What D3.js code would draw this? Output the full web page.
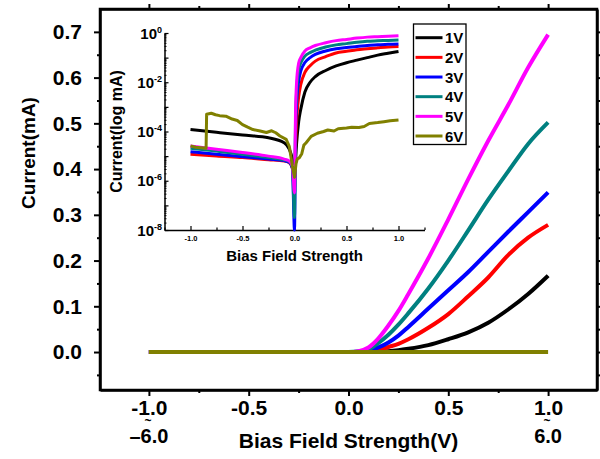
<!DOCTYPE html>
<html>
<head>
  <meta charset="UTF-8">
  <title>Current vs Bias Field Strength</title>
  <script src="https://d3js.org/d3.v7.min.js"></script>
  <style>
    body {
      margin: 0;
      background: #fff;
    }
    svg {
      font-family: "Liberation Sans", Arial, sans-serif;
      font-weight: bold;
    }
    .axis line, .axis path {
      stroke: #000;
    }
    .axis text {
      fill: #000;
    }
  </style>
</head>
<body>
  <svg id="chart" width="600" height="459"></svg>
  <script>
    const series = ["1V", "2V", "3V", "4V", "5V", "6V"];
    const colours = ["#000000", "#ff0000", "#0000ff", "#008080", "#ff00ff", "#808000"];

    // main panel, current in mA
    const biasX = [-1.0, 0.0, 0.05, 0.1, 0.15, 0.2, 0.25, 0.3, 0.4, 0.5, 0.6, 0.7, 0.8, 0.9, 1.0];
    const cur1V = [0, 0, 0, 0, 0.001, 0.002, 0.004, 0.007, 0.015, 0.028, 0.043, 0.064, 0.093, 0.127, 0.167];
    const cur2V = [0, 0, 0, 0.001, 0.004, 0.011, 0.018, 0.028, 0.053, 0.083, 0.122, 0.163, 0.212, 0.25, 0.278];
    const cur3V = [0, 0, 0.0005, 0.003, 0.01, 0.021, 0.036, 0.055, 0.095, 0.135, 0.175, 0.219, 0.263, 0.306, 0.349];
    const cur4V = [0, 0, 0.001, 0.006, 0.02, 0.038, 0.06, 0.085, 0.139, 0.2, 0.266, 0.333, 0.395, 0.455, 0.502];
    const cur5V = [0, 0, 0.002, 0.01, 0.03, 0.058, 0.09, 0.127, 0.205, 0.29, 0.378, 0.462, 0.54, 0.622, 0.694];
    const cur6V = [0, 0, 0, 0, 0, 0, 0, 0, 0, 0, 0, 0, 0, 0, 0];

    // inset, |current| on log scale
    const insetX = [-1.0, -0.75, -0.5, -0.25, -0.1, -0.05, -0.02, 0, 0.01, 0.02, 0.04, 0.06, 0.1, 0.15, 0.2, 0.3, 0.4, 0.5, 0.6, 0.7, 0.8, 0.9, 1.0];
    const log1V = [1.2e-4, 9.3e-5, 7.2e-5, 5.6e-5, 3.5e-5, 1.9e-5, 7.1e-6, 1.3e-6, 6.3e-6, 3.2e-5, 2.5e-4, 7.9e-4, 4.0e-3, 1.0e-2, 1.7e-2, 3.0e-2, 4.6e-2, 6.2e-2, 7.9e-2, 0.10, 0.126, 0.15, 0.178];
    const log2V = [1.2e-5, 1.0e-5, 8.7e-6, 7.1e-6, 6.3e-6, 5.4e-6, 3.2e-6, 3.2e-7, 2.5e-5, 2.5e-4, 2.5e-3, 7.9e-3, 2.5e-2, 4.7e-2, 7.2e-2, 0.11, 0.155, 0.18, 0.21, 0.23, 0.25, 0.27, 0.28];
    const log3V = [1.5e-5, 1.2e-5, 9.5e-6, 7.6e-6, 6.6e-6, 5.6e-6, 3.2e-6, 1e-8, 1e-4, 1.3e-3, 1.1e-2, 2.8e-2, 6.3e-2, 0.10, 0.135, 0.186, 0.23, 0.26, 0.28, 0.31, 0.33, 0.35, 0.36];
    const log4V = [2.1e-5, 1.6e-5, 1.2e-5, 8.7e-6, 7.1e-6, 6.0e-6, 3.5e-6, 3.2e-8, 2.5e-4, 4.0e-3, 3.2e-2, 6.0e-2, 0.115, 0.16, 0.20, 0.27, 0.33, 0.37, 0.42, 0.46, 0.48, 0.50, 0.52];
    const log5V = [2.6e-5, 1.9e-5, 1.4e-5, 1.0e-5, 7.6e-6, 6.3e-6, 4.0e-6, 3.2e-7, 6.3e-4, 1.0e-2, 6.0e-2, 0.10, 0.186, 0.25, 0.31, 0.40, 0.49, 0.55, 0.62, 0.68, 0.71, 0.74, 0.78];
    // 6V is noisy, so it gets its own x grid
    const log6X = [-1.0, -0.95, -0.9, -0.85, -0.845, -0.8, -0.76, -0.72, -0.66, -0.6, -0.55, -0.5, -0.45, -0.4, -0.33, -0.27, -0.22, -0.18, -0.14, -0.08, -0.05, -0.02, 0, 0.015, 0.026, 0.048, 0.07, 0.09, 0.112, 0.16, 0.22, 0.28, 0.32, 0.38, 0.42, 0.5, 0.55, 0.62, 0.67, 0.72, 0.8, 0.86, 0.92, 1.0];
    const log6V = [2.6e-5, 2.3e-5, 2.2e-5, 2.1e-5, 5.0e-4, 5.5e-4, 4.8e-4, 4.4e-4, 4.2e-4, 3.2e-4, 2.8e-4, 1.9e-4, 1.5e-4, 1.2e-4, 1.05e-4, 9.1e-5, 1.07e-4, 8.9e-5, 6.6e-5, 4.8e-5, 2.5e-5, 4e-6, 1.4e-6, 5e-6, 7.6e-6, 8.7e-6, 1.26e-5, 2.8e-5, 3.5e-5, 6.3e-5, 8.5e-5, 1.0e-4, 1.15e-4, 1.05e-4, 1.3e-4, 1.4e-4, 1.5e-4, 1.45e-4, 1.6e-4, 2.1e-4, 2.3e-4, 2.5e-4, 2.75e-4, 2.95e-4];

    // ticks
    const xTicks = [-1.0, -0.5, 0.0, 0.5, 1.0];
    const xMinor = [-0.75, -0.25, 0.25, 0.75];
    const yTicks = [0.0, 0.1, 0.2, 0.3, 0.4, 0.5, 0.6, 0.7];
    const yMinor = [-0.05, 0.05, 0.15, 0.25, 0.35, 0.45, 0.55, 0.65];
    const altTicks = [-1.0, 1.0];
    const altLabels = ["\u20136.0", "6.0"];
    const insetXMinor = [-1.25, -0.75, -0.25, 0.25, 0.75, 1.25];
    const insetDecades = [1e-8, 1e-7, 1e-6, 1e-5, 1e-4, 1e-3, 1e-2, 1e-1, 1e0];
    const insetLabelled = [0, -2, -4, -6, -8];

    const currents = [cur1V, cur2V, cur3V, cur4V, cur5V, cur6V];
    const logCurrents = [log1V, log2V, log3V, log4V, log5V];

    const svg = d3.select("#chart");

    const x = d3.scaleLinear().domain([-1.245, 1.245]).range([100, 597]);
    const y = d3.scaleLinear().domain([-0.083, 0.75]).range([390, 9]);

    const styleAxis = (g, size, keepDomain) => {
      g.attr("font-family", null).attr("font-size", size);
      if (keepDomain) g.select(".domain").attr("stroke-width", 2.5);
      else g.select(".domain").remove();
    };

    // main curves
    const line = d3.line()
      .x((d, i) => x(biasX[i]))
      .y(d => y(d))
      .curve(d3.curveMonotoneX);

    svg.selectAll(".curve")
      .data(currents)
      .enter()
      .append("path")
      .attr("class", "curve")
      .attr("fill", "none")
      .attr("stroke", (d, i) => colours[i])
      .attr("stroke-width", 4)
      .attr("stroke-linejoin", "round")
      .attr("d", line);

    // bottom axis
    svg.append("g").attr("class", "axis")
      .attr("transform", "translate(0,390)")
      .call(d3.axisBottom(x).tickValues(xTicks).tickSize(6).tickSizeOuter(0).tickPadding(4)
        .tickFormat(d => d.toFixed(1)))
      .call(g => styleAxis(g, 21, true))
      .selectAll("line").attr("stroke-width", 2);
    svg.append("g").attr("class", "axis")
      .attr("transform", "translate(0,390)")
      .call(d3.axisBottom(x).tickValues(xMinor).tickSize(3).tickSizeOuter(0).tickFormat(""))
      .call(g => styleAxis(g, 20))
      .selectAll("line").attr("stroke-width", 2);
    // top axis
    svg.append("g").attr("class", "axis")
      .attr("transform", "translate(0,9)")
      .call(d3.axisTop(x).tickValues(xTicks).tickSize(5).tickSizeOuter(0).tickFormat(""))
      .call(g => styleAxis(g, 20, true))
      .selectAll("line").attr("stroke-width", 2);
    svg.append("g").attr("class", "axis")
      .attr("transform", "translate(0,9)")
      .call(d3.axisTop(x).tickValues(xMinor).tickSize(3).tickSizeOuter(0).tickFormat(""))
      .call(g => styleAxis(g, 20))
      .selectAll("line").attr("stroke-width", 2);

    // left axis
    svg.append("g").attr("class", "axis")
      .attr("transform", "translate(100,0)")
      .call(d3.axisLeft(y).tickValues(yTicks).tickSize(6).tickSizeOuter(0).tickPadding(12)
        .tickFormat(d => d.toFixed(1)))
      .call(g => styleAxis(g, 21, true))
      .selectAll("line").attr("stroke-width", 2);
    svg.append("g").attr("class", "axis")
      .attr("transform", "translate(100,0)")
      .call(d3.axisLeft(y).tickValues(yMinor).tickSize(3).tickSizeOuter(0).tickFormat(""))
      .call(g => styleAxis(g, 20))
      .selectAll("line").attr("stroke-width", 2);
    // right axis
    svg.append("g").attr("class", "axis")
      .attr("transform", "translate(597,0)")
      .call(d3.axisRight(y).tickValues(yTicks).tickSize(5).tickSizeOuter(0).tickFormat(""))
      .call(g => styleAxis(g, 20, true))
      .selectAll("line").attr("stroke-width", 2);
    svg.append("g").attr("class", "axis")
      .attr("transform", "translate(597,0)")
      .call(d3.axisRight(y).tickValues(yMinor).tickSize(3).tickSizeOuter(0).tickFormat(""))
      .call(g => styleAxis(g, 20))
      .selectAll("line").attr("stroke-width", 2);

    // frame
    svg.append("rect")
      .attr("x", 100).attr("y", 9)
      .attr("width", 497).attr("height", 381)
      .style("fill", "none")
      .style("stroke", "#000")
      .style("stroke-width", "2.5px");

    // second row of x labels (the ~ and the 6.0 values)
    svg.selectAll(".tilde")
      .data(altTicks)
      .enter()
      .append("text")
      .attr("class", "tilde")
      .attr("x", d => x(d) - 1)
      .attr("y", 425)
      .attr("text-anchor", "middle")
      .attr("font-size", 12)
      .text("~");
    svg.selectAll(".alt")
      .data(altTicks)
      .enter()
      .append("text")
      .attr("class", "alt")
      .attr("x", d => x(d))
      .attr("y", 443)
      .attr("text-anchor", "middle")
      .attr("font-size", 20)
      .text((d, i) => altLabels[i]);

    svg.append("text")
      .attr("x", (x.range()[0] + x.range()[1]) / 2)
      .attr("y", 448)
      .attr("text-anchor", "middle")
      .attr("font-size", 21)
      .text("Bias Field Strength(V)");

    svg.append("text")
      .attr("transform", "translate(35,153) rotate(-90)")
      .attr("text-anchor", "middle")
      .attr("font-size", 19)
      .text("Current(mA)");

    // ---- inset ----
    const ix = d3.scaleLinear().domain([-1.25, 1.25]).range([164.5, 424.5]);
    const iy = d3.scaleLog().domain([1e-8, 1]).range([230, 33]).clamp(true);

    const insetMinor = [];
    insetDecades.slice(0, -1).forEach(p => {
      for (let k = 2; k < 10; k++) insetMinor.push(p * k);
    });

    svg.append("g").attr("class", "axis")
      .attr("transform", "translate(0,230)")
      .call(d3.axisBottom(ix).tickValues(xTicks).tickSizeInner(-4).tickSizeOuter(0).tickPadding(6)
        .tickFormat(d => d.toFixed(1)))
      .call(g => g.attr("font-family", null).attr("font-size", 7.5))
      .call(g => g.select(".domain").attr("stroke-width", 1.5))
      .selectAll("line").attr("stroke-width", 1.2);
    svg.append("g").attr("class", "axis")
      .attr("transform", "translate(0,230)")
      .call(d3.axisBottom(ix).tickValues(insetXMinor).tickSizeInner(-2.5).tickSizeOuter(0).tickFormat(""))
      .call(g => styleAxis(g, 8))
      .selectAll("line").attr("stroke-width", 1.2);

    svg.append("g").attr("class", "axis")
      .attr("transform", "translate(164.5,0)")
      .call(d3.axisLeft(iy).tickValues(insetDecades).tickSizeInner(-4).tickSizeOuter(0).tickFormat(""))
      .call(g => g.attr("font-family", null))
      .call(g => g.select(".domain").attr("stroke-width", 1.5))
      .selectAll("line").attr("stroke-width", 1.2);
    svg.append("g").attr("class", "axis")
      .attr("transform", "translate(164.5,0)")
      .call(d3.axisLeft(iy).tickValues(insetMinor).tickSizeInner(-2).tickSizeOuter(0).tickFormat(""))
      .call(g => styleAxis(g, 8))
      .selectAll("line").attr("stroke-width", 1);

    const powLabels = svg.selectAll(".pow")
      .data(insetLabelled)
      .enter()
      .append("text")
      .attr("class", "pow")
      .attr("x", 162)
      .attr("y", d => iy(Math.pow(10, d)) + 5.5)
      .attr("text-anchor", "end")
      .attr("font-size", 15);
    powLabels.append("tspan").text("10");
    powLabels.append("tspan")
      .attr("dy", -6)
      .attr("font-size", 9)
      .text(d => d);

    svg.append("text")
      .attr("x", ix(0))
      .attr("y", 261)
      .attr("text-anchor", "middle")
      .attr("font-size", 15)
      .text("Bias Field Strength");

    svg.append("text")
      .attr("transform", "translate(122,131.5) rotate(-90)")
      .attr("text-anchor", "middle")
      .attr("font-size", 16)
      .text("Current(log mA)");

    const logLine = d3.line()
      .x((d, i) => ix(insetX[i]))
      .y(d => iy(d))
      .curve(d3.curveMonotoneX);

    svg.selectAll(".logcurve")
      .data(logCurrents)
      .enter()
      .append("path")
      .attr("class", "logcurve")
      .attr("fill", "none")
      .attr("stroke", (d, i) => colours[i])
      .attr("stroke-width", 3)
      .attr("stroke-linejoin", "round")
      .attr("d", logLine);

    svg.append("path")
      .datum(log6V)
      .attr("fill", "none")
      .attr("stroke", colours[5])
      .attr("stroke-width", 3)
      .attr("stroke-linejoin", "round")
      .attr("d", d3.line().x((d, i) => ix(log6X[i])).y(d => iy(d)));

    // legend
    const legendY = d3.scaleLinear().domain([0, 5]).range([37.7, 136]);
    svg.append("rect")
      .attr("x", 413.5).attr("y", 24)
      .attr("width", 52.5).attr("height", 120.5)
      .attr("fill", "#fff")
      .attr("stroke", "#000")
      .attr("stroke-width", 1.3);
    const items = svg.selectAll(".legend")
      .data(series)
      .enter()
      .append("g")
      .attr("class", "legend")
      .attr("transform", (d, i) => `translate(0,${legendY(i)})`);
    items.append("line")
      .attr("x1", 415.5).attr("x2", 442.5)
      .attr("stroke", (d, i) => colours[i])
      .attr("stroke-width", 3);
    items.append("text")
      .attr("x", 445)
      .attr("y", 5.5)
      .attr("font-size", 15)
      .text(d => d);
  </script>
</body>
</html>
